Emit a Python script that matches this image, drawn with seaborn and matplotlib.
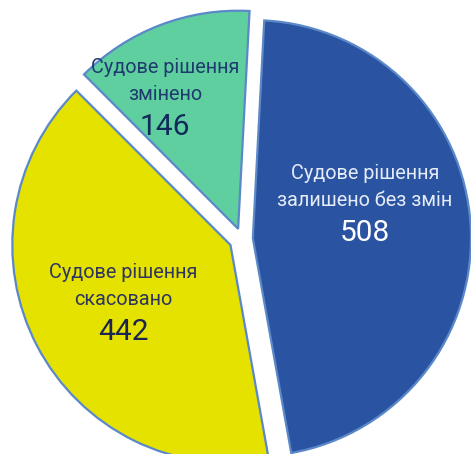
import matplotlib
matplotlib.use("Agg")
import matplotlib.pyplot as plt
import seaborn as sns

sns.set_theme(style="white")
plt.rcParams['font.family'] = ['Roboto', 'DejaVu Sans']

categories = ["Судове рішення\nзалишено без змін", "Судове рішення\nскасовано", "Судове рішення\nзмінено"]
values = [508, 442, 146]
colors = ["#2A53A2", "#E5E200", "#5FCFA0"]
text_colors = ["#E6ECF7", "#2E3560", "#1F3A6E"]
num_colors = ["#FFFFFF", "#1B2550", "#12295C"]
# label anchor positions (data units, pie radius = 1)
label_pos = [(0.567, 0.175), (-0.548, -0.281), (-0.355, 0.664)]

fig = plt.figure(figsize=(4.71, 4.54), dpi=100)
ax = fig.add_axes([0, 0, 1, 1])
wedges, _ = ax.pie(values, colors=colors, startangle=87, counterclock=False,
                   explode=[0.05, 0.06, 0.05], radius=1.005,
                   wedgeprops=dict(edgecolor="#5B88C8", linewidth=1.6))
ax.set_xlim(-1.115, 1.055)
ax.set_ylim(-0.991, 1.101)
ax.set_aspect('equal', adjustable='datalim')
ax.axis('off')

line_h = 27 / 217.0
for cat, v, (x, y), tc, nc in zip(categories, values, label_pos, text_colors, num_colors):
    lines = cat.split("\n")
    ax.text(x, y + line_h * 1.0, lines[0], ha='center', va='center', fontsize=14.3,
            color=tc, fontweight='normal')
    ax.text(x, y, lines[1], ha='center', va='center', fontsize=14.3,
            color=tc, fontweight='normal')
    ax.text(x, y - line_h * 1.2, str(v), ha='center', va='center', fontsize=21.5,
            color=nc)

fig.savefig("out.png", dpi=100)
